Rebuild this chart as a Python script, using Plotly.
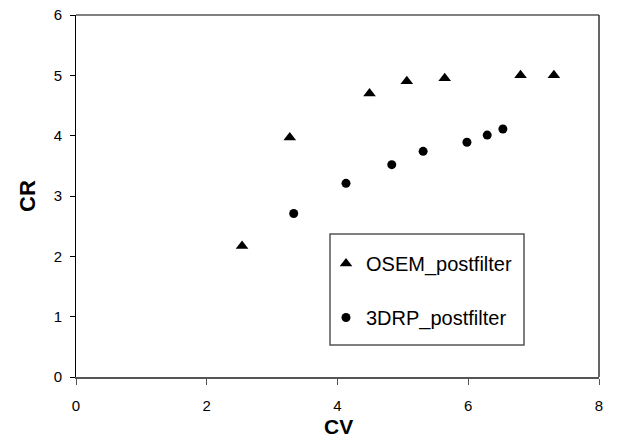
import plotly.graph_objects as go

osem_cv = [2.54, 3.27, 4.49, 5.06, 5.64, 6.80, 7.31]
osem_cr = [2.17, 3.97, 4.70, 4.90, 4.95, 5.00, 5.00]
drp_cv = [3.33, 4.13, 4.83, 5.31, 5.98, 6.29, 6.53]
drp_cr = [2.71, 3.21, 3.52, 3.74, 3.89, 4.01, 4.11]

x_ticks = [0, 2, 4, 6, 8]
y_ticks = [0, 1, 2, 3, 4, 5, 6]

# page has an 8px body margin; figure is placed at (8, 8)
OFF = 8
L, R, T, B = 76, 599, 15, 377
W, H = 619 - OFF, 444 - OFF
pw, ph = R - L, B - T

def px_x(p):
    return (p - L) / pw

def px_y(p):
    return (B - p) / ph

fig = go.Figure()
fig.add_trace(go.Scatter(x=osem_cv, y=osem_cr, mode="markers", name="OSEM_postfilter",
                         legendgroup="a",
                         marker=dict(symbol="triangle-up", size=11, color="black")))
fig.add_trace(go.Scatter(x=drp_cv, y=drp_cr, mode="markers", name="3DRP_postfilter",
                         legendgroup="b",
                         marker=dict(symbol="circle", size=9, color="black")))

font = "Arial, Liberation Sans, sans-serif"
fig.update_layout(
    width=W, height=H,
    margin=dict(l=L - OFF, r=619 - R, t=T - OFF, b=444 - B),
    paper_bgcolor="white", plot_bgcolor="white",
    font=dict(family=font, size=15, color="black"),
    showlegend=True,
    legend=dict(x=px_x(326), y=px_y(244), xanchor="left", yanchor="top",
                bgcolor="rgba(0,0,0,0)", borderwidth=0,
                font=dict(family=font, size=20, color="black"),
                tracegroupgap=25, itemsizing="trace"),
    xaxis=dict(range=[0, 8], tickvals=x_ticks, showgrid=False, zeroline=False,
               showline=True, linecolor="#555", linewidth=2,
               ticks="outside", ticklen=6, tickcolor="#555",
               ticklabelstandoff=8, automargin=False, ticklabeloverflow="allow"),
    yaxis=dict(range=[0, 6], tickvals=y_ticks, showgrid=False, zeroline=False,
               showline=True, linecolor="black", linewidth=1,
               ticks="outside", ticklen=5, tickcolor="black",
               ticklabelstandoff=5, automargin=False, ticklabeloverflow="allow"),
    shapes=[
        dict(type="line", xref="paper", yref="paper", x0=0, x1=1, y0=1, y1=1,
             line=dict(color="black", width=1)),
        dict(type="line", xref="paper", yref="paper", x0=1, x1=1, y0=0, y1=1,
             line=dict(color="#333", width=1.5)),
        dict(type="rect", xref="paper", yref="paper",
             x0=px_x(330), x1=px_x(524), y0=px_y(345), y1=px_y(234),
             line=dict(color="#555", width=1.5), fillcolor="white", layer="below"),
    ],
    annotations=[
        dict(text="<b>CV</b>", xref="paper", yref="paper", x=px_x(338), y=px_y(426),
             xanchor="center", yanchor="middle", showarrow=False,
             font=dict(family=font, size=21)),
        dict(text="<b>CR</b>", xref="paper", yref="paper", x=px_x(27), y=px_y(196),
             xanchor="center", yanchor="middle", showarrow=False, textangle=-90,
             font=dict(family=font, size=22)),
    ],
)

fig.write_html("out.html")
